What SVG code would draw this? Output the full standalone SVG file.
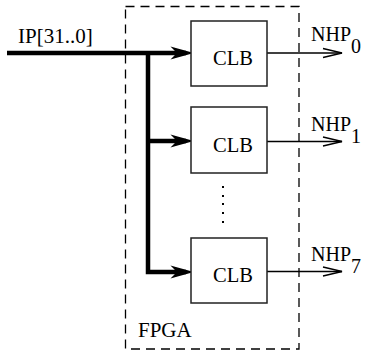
<svg xmlns="http://www.w3.org/2000/svg" width="366" height="351" viewBox="0 0 366 351">
<style>
  text { font-family: "Liberation Serif", "Times New Roman", serif; fill: #000; }
  .lbl { font-size: 21px; }
  .clb { font-size: 20.5px; }
  .nhp { font-size: 20px; }
  .box { fill: #fff; stroke: #222; stroke-width: 1.5; }
  .bus { fill: none; stroke: #000; stroke-width: 4.5; }
  .out { fill: none; stroke: #000; stroke-width: 1.3; }
  .head { fill: none; stroke: #000; stroke-width: 1.3; }
  .fpga { fill: none; stroke: #000; stroke-width: 1.3; stroke-dasharray: 9 6; }
</style>
<defs>
  <path id="bighead" d="M0,0 L-18,-5 L-13,0 L-18,5 Z" fill="#000" stroke="#000" stroke-width="1.5" stroke-linejoin="miter"/>
  <path id="openhead" d="M-19,-4.5 L0,0 L-19,4.5" class="head"/>
</defs>
<g id="fpga">
  <rect x="125.5" y="6.5" width="173.5" height="342.5" class="fpga"/>
  <text x="138" y="337" class="lbl">FPGA</text>
</g>
<g id="connectors">
  <path d="M7,53 H186" class="bus"/>
  <path d="M148,53 V272 H186" class="bus"/>
  <path d="M148,141 H186" class="bus"/>
  <use href="#bighead" x="191" y="53"/>
  <use href="#bighead" x="191" y="141"/>
  <use href="#bighead" x="191" y="272"/>
  <path d="M267,53 H342" class="out"/>
  <path d="M267,141.5 H342" class="out"/>
  <path d="M267,271.5 H342" class="out"/>
  <use href="#openhead" x="342" y="53"/>
  <use href="#openhead" x="342" y="141.5"/>
  <use href="#openhead" x="342" y="271.5"/>
</g>
<g id="input-label">
  <text x="18" y="43" class="lbl">IP[31..0]</text>
</g>
<g id="clb0">
  <rect x="191" y="21" width="76" height="65" class="box"/>
  <text x="213" y="65" class="clb">CLB</text>
</g>
<g id="clb1">
  <rect x="191" y="107" width="76" height="66" class="box"/>
  <text x="213" y="152" class="clb">CLB</text>
</g>
<g id="clb7">
  <rect x="191" y="238" width="76" height="65" class="box"/>
  <text x="213" y="282" class="clb">CLB</text>
</g>
<g id="dots">
  <rect x="222" y="186" width="2" height="2" fill="#000"/>
  <rect x="222" y="195" width="2" height="2" fill="#000"/>
  <rect x="222" y="203" width="2" height="2" fill="#000"/>
  <rect x="222" y="212" width="2" height="2" fill="#000"/>
  <rect x="222" y="221" width="2" height="2" fill="#000"/>
</g>
<g id="nhp0">
  <text x="311" y="41" class="nhp">NHP<tspan dy="12">0</tspan></text>
</g>
<g id="nhp1">
  <text x="311" y="131" class="nhp">NHP<tspan dy="12">1</tspan></text>
</g>
<g id="nhp7">
  <text x="311" y="261" class="nhp">NHP<tspan dy="12">7</tspan></text>
</g>
</svg>
